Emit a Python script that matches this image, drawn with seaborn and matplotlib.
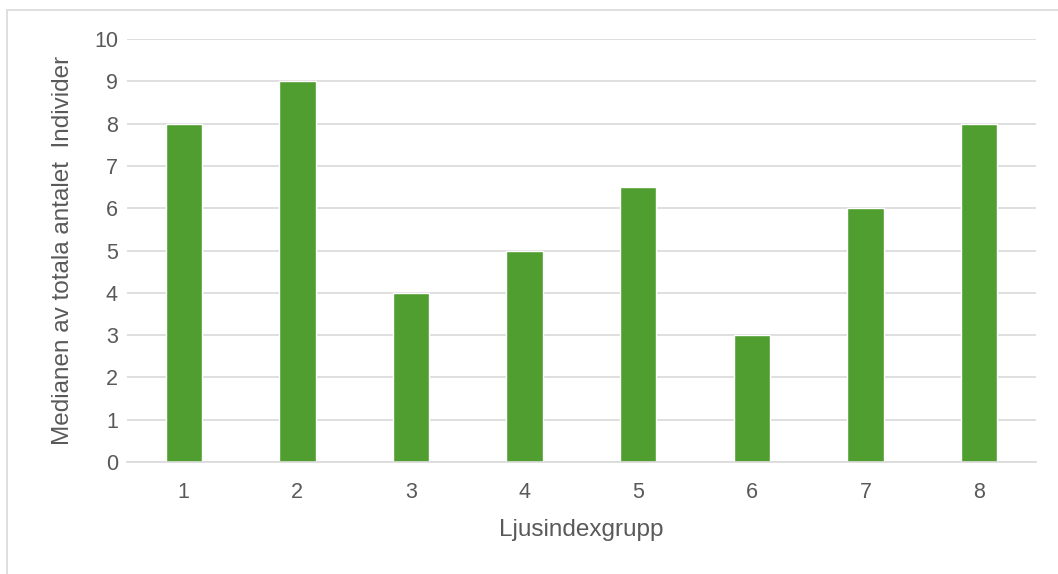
import numpy as np
import pandas as pd
import matplotlib
matplotlib.use("Agg")
import matplotlib.pyplot as plt
import seaborn as sns
from matplotlib.patches import Rectangle
from matplotlib.ticker import FixedLocator

grupper = ["1", "2", "3", "4", "5", "6", "7", "8"]
median = [8, 9, 4, 5, 6.5, 3, 6, 8]

df = pd.DataFrame({"grupp": grupper, "median": median})

sns.set_style("white")
plt.rcParams['font.family'] = ['Liberation Sans', 'DejaVu Sans']
text_col = "#595959"

fig = plt.figure(figsize=(10.58, 5.74), dpi=100)
ax = fig.add_axes([0.12, 0.195, 0.859, 0.737])

sns.barplot(data=df, x="grupp", y="median", color="#509E2F", width=0.32,
            saturation=1, ax=ax)

ax.set_ylim(0, 10)
ax.set_yticks(range(0, 11))
ax.set_xlim(-0.5, len(grupper) - 0.5)
ax.yaxis.grid(True, color="#D9D9D9", linewidth=1.2)
ax.set_axisbelow(True)

for s in ["top", "right", "left"]:
    ax.spines[s].set_visible(False)
ax.spines["bottom"].set_color("#D9D9D9")
ax.spines["bottom"].set_linewidth(1.2)

ax.tick_params(axis="y", length=0, labelsize=15.5, labelcolor=text_col, pad=6.5)
ax.tick_params(axis="x", which="major", length=0, labelsize=15.5, labelcolor=text_col, pad=14)
ax.xaxis.set_minor_locator(FixedLocator(np.arange(-0.5, len(grupper), 1)))
ax.tick_params(axis="x", which="minor", length=7, color="#D9D9D9", width=1.2)

ax.set_xlabel("Ljusindexgrupp", fontsize=17.5, color=text_col, labelpad=12)
ax.set_ylabel("Medianen av totala antalet  Individer", fontsize=17.5, color=text_col, labelpad=14)

# outer chart border (only top and left edges visible)
fig.patches.append(Rectangle((7 / 1058, -0.05), 1.1, 1.05 - 10 / 574,
                             transform=fig.transFigure, fill=False,
                             edgecolor="#D9D9D9", linewidth=1.2))

plt.savefig("out.png", dpi=100)
